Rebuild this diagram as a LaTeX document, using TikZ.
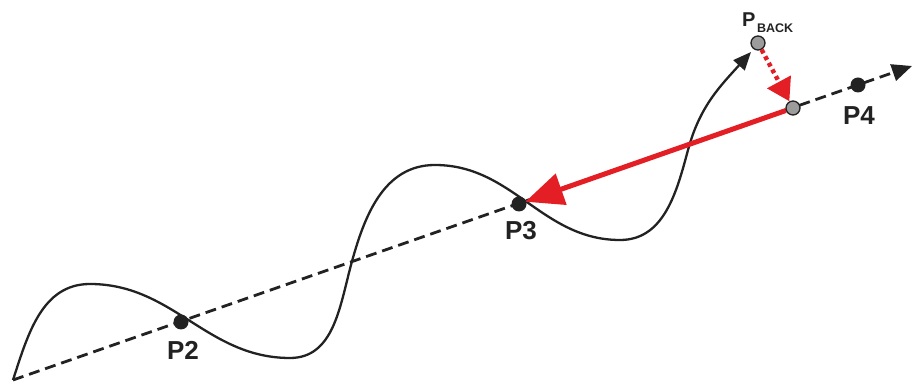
\documentclass[tikz,border=0pt]{standalone}
\usepackage{fontspec}
\setmainfont{Liberation Sans}
\usetikzlibrary{arrows.meta}
\definecolor{ink}{HTML}{222222}
\definecolor{redA}{HTML}{E31E24}
\definecolor{grayA}{HTML}{9C9C9C}
\tikzset{
  blackdot/.style={circle,fill=ink,inner sep=0pt,minimum size=15pt},
  graydot/.style={circle,fill=grayA,draw=ink,line width=1.3pt,inner sep=0pt,minimum size=14pt},
  lbl/.style={font=\bfseries\fontsize{26}{28}\selectfont,text=ink,inner sep=0pt},
  wave/.style={draw=ink,line width=2.3pt},
  dashline/.style={draw=ink,line width=2.8pt,dash pattern=on 11pt off 6pt},
}
\begin{document}
\begin{tikzpicture}[x=1pt,y=1pt]
\useasboundingbox (0,0) rectangle (916,385);
% coordinates
\coordinate (s) at (13,5);
\coordinate (e) at (912,319);
\coordinate (pk1) at (90,101);
\coordinate (mn1) at (290,27);
\coordinate (cr1) at (351,120);
\coordinate (pk2) at (435,220);
\coordinate (mn2) at (620,145);
\coordinate (cr2) at (688,235);
\coordinate (cend) at (751,333);
% dashed axis
\draw[dashline,-{Stealth[length=20pt,width=17pt,inset=0pt]}] (s) -- (e);
% wave
\draw[wave,-{Stealth[length=18pt,width=15pt,inset=0pt]}] (s) to[out=72,in=180] (pk1) to[out=0,in=180] (mn1)
  to[out=0,in=255] (cr1) to[out=75,in=180] (pk2) to[out=0,in=180] (mn2)
  to[out=0,in=255] (cr2) to[out=75,in=228] (cend);
% points
\node[blackdot] (p2) at (181,63) {};
\node[blackdot] (p3) at (519,181) {};
\node[blackdot] (p4) at (858,300) {};
\node[graydot] (g) at (793,277) {};
\node[graydot] (pb) at (758,342) {};
% red arrows
\draw[redA,line width=5pt,-{Triangle[length=38pt,width=32pt]},shorten >=-1pt] (g) -- (p3);
\draw[redA,line width=4.5pt,dash pattern=on 4pt off 3.5pt,-{Triangle[length=22pt,width=26pt]},shorten >=0pt] (pb) -- (g);
% labels
\node[lbl] (l2) at (183,35) {P2};
\node[lbl] (l3) at (521,154) {P3};
\node[lbl] (l4) at (859,269) {P4};
\node[inner sep=0pt,anchor=base west,text=ink,font=\bfseries\fontsize{20}{22}\selectfont] (lpb) at (742,358) {P\hspace{1.5pt}\raisebox{-6pt}{\fontsize{12.5}{14}\selectfont BACK}};
\end{tikzpicture}
\end{document}
